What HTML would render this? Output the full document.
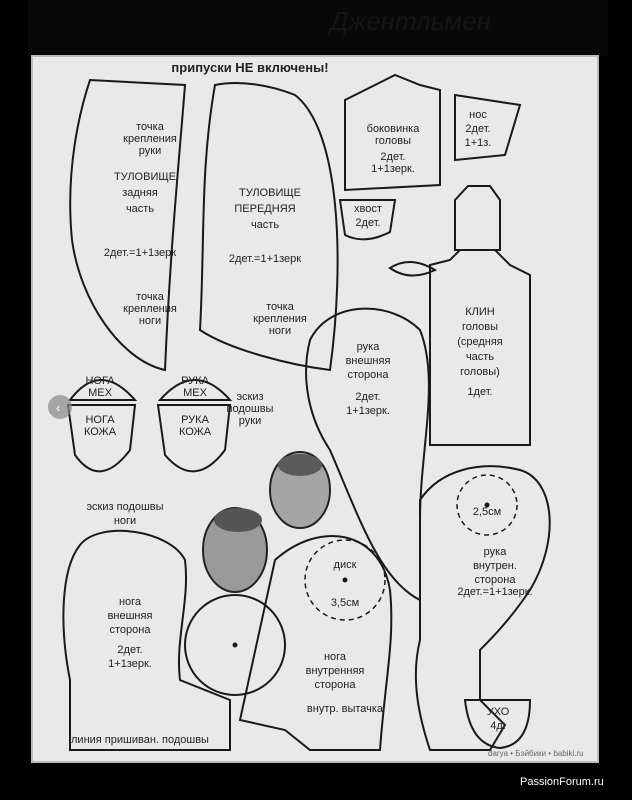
<!DOCTYPE html>
<html><head><meta charset="utf-8"><style>
html,body{margin:0;padding:0;background:#000;width:632px;height:800px;overflow:hidden}
svg{display:block}
text{font-family:"Liberation Sans","DejaVu Sans",sans-serif;fill:#222}
</style></head><body>
<svg width="632" height="800" viewBox="0 0 632 800" xmlns="http://www.w3.org/2000/svg">
<rect width="632" height="800" fill="#000"/>
<rect x="28" y="0" width="580" height="56" fill="#080808"/>
<text x="330" y="30" font-size="26" style="fill:#151515" font-style="italic">Джентльмен</text>
<rect x="32" y="56" width="566" height="706" fill="#e9e9e9"/>
<rect x="32" y="56" width="566" height="706" fill="none" stroke="#bbb" stroke-width="2"/>
<g fill="none" stroke="#1a1a1a" stroke-width="2">
<path d="M90,80 L185,85 C180,150 170,250 165,370 C120,360 80,300 72,240 C65,170 80,110 90,80 Z"/>
<path d="M215,85 C240,80 270,85 295,95 C340,130 345,260 330,370 C290,365 230,350 200,330 C205,240 200,170 215,85Z"/>
<path d="M345,100 L395,75 L420,85 L440,90 L440,185 L345,190 Z"/>
<path d="M455,95 L520,105 L505,155 L455,160 Z"/>
<path d="M340,200 L395,200 L390,232 Q365,245 345,235 Z"/>
<path d="M455,200 L468,186 L490,186 L500,200 L500,250 L455,250 Z"/>
<path d="M430,265 L450,260 L460,250 L495,250 L510,265 L530,275 L530,445 L430,445 Z"/>
<path d="M390,268 Q410,255 435,270 Q410,282 390,268Z"/>
<path d="M310,340 C330,300 390,300 420,330 C440,380 420,450 420,520 L420,600 C380,580 360,520 330,450 C310,420 300,380 310,340Z"/>
<path d="M420,500 C440,470 480,460 520,470 C555,480 560,540 530,590 C510,620 490,640 480,650 L480,700 L505,725 L490,750 L430,750 C420,720 410,680 420,640 Z"/>
<path d="M465,700 L530,700 Q530,745 500,748 Q470,745 465,700Z"/>
<path d="M70,400 Q100,360 135,400 Z M68,405 L135,405 L130,450 Q100,490 75,455 Z"/>
<path d="M160,400 Q195,360 230,400 Z M158,405 L230,405 L225,450 Q195,490 165,455 Z"/>
<path d="M80,545 C100,520 170,530 185,560 C190,600 175,640 180,680 L230,700 L230,750 L70,750 L70,680 C60,630 60,570 80,545Z"/>
<circle cx="235" cy="645" r="50"/>
<path d="M275,560 C320,520 380,530 390,590 C395,640 385,680 380,750 L310,750 L285,730 L240,720 Z"/>
</g>
<g fill="none" stroke="#1a1a1a" stroke-width="1.5" stroke-dasharray="5,4">
<circle cx="345" cy="580" r="40"/>
<circle cx="487" cy="505" r="30"/>
</g>
<g fill="#1a1a1a"><circle cx="345" cy="580" r="2.5"/><circle cx="487" cy="505" r="2.5"/><circle cx="235" cy="645" r="2.5"/></g>
<ellipse cx="235" cy="550" rx="32" ry="42" fill="#9a9a9a" stroke="#222" stroke-width="2"/>
<ellipse cx="238" cy="520" rx="24" ry="12" fill="#555"/>
<ellipse cx="300" cy="490" rx="30" ry="38" fill="#a5a5a5" stroke="#222" stroke-width="2"/>
<ellipse cx="300" cy="465" rx="22" ry="11" fill="#5a5a5a"/>
<g font-size="11" text-anchor="middle">
<text x="250" y="72" font-size="13" font-weight="bold">припуски НЕ включены!</text>
<text x="145" y="180">ТУЛОВИЩЕ</text><text x="140" y="196">задняя</text><text x="140" y="212">часть</text><text x="140" y="256">2дет.=1+1зерк</text>
<text x="150" y="130">точка</text><text x="150" y="142">крепления</text><text x="150" y="154">руки</text>
<text x="150" y="300">точка</text><text x="150" y="312">крепления</text><text x="150" y="324">ноги</text>
<text x="270" y="196">ТУЛОВИЩЕ</text><text x="265" y="212">ПЕРЕДНЯЯ</text><text x="265" y="228">часть</text><text x="265" y="262">2дет.=1+1зерк</text>
<text x="280" y="310">точка</text><text x="280" y="322">крепления</text><text x="280" y="334">ноги</text>
<text x="393" y="132">боковинка</text><text x="393" y="144">головы</text><text x="393" y="160">2дет.</text><text x="393" y="172">1+1зерк.</text>
<text x="478" y="118">нос</text><text x="478" y="132">2дет.</text><text x="478" y="146">1+1з.</text>
<text x="368" y="212">хвост</text><text x="368" y="226">2дет.</text>
<text x="480" y="315">КЛИН</text><text x="480" y="330">головы</text><text x="480" y="345">(средняя</text><text x="480" y="360">часть</text><text x="480" y="375">головы)</text><text x="480" y="395">1дет.</text>
<text x="368" y="350">рука</text><text x="368" y="364">внешняя</text><text x="368" y="378">сторона</text><text x="368" y="400">2дет.</text><text x="368" y="414">1+1зерк.</text>
<text x="100" y="384">НОГА</text><text x="100" y="396">МЕХ</text><text x="100" y="423">НОГА</text><text x="100" y="435">КОЖА</text>
<text x="195" y="384">РУКА</text><text x="195" y="396">МЕХ</text><text x="195" y="423">РУКА</text><text x="195" y="435">КОЖА</text>
<text x="250" y="400">эскиз</text><text x="250" y="412">подошвы</text><text x="250" y="424">руки</text>
<text x="125" y="510">эскиз подошвы</text><text x="125" y="524">ноги</text>
<text x="130" y="605">нога</text><text x="130" y="619">внешняя</text><text x="130" y="633">сторона</text><text x="130" y="653">2дет.</text><text x="130" y="667">1+1зерк.</text>
<text x="140" y="743">линия пришиван. подошвы</text>
<text x="345" y="568">диск</text><text x="345" y="606">3,5см</text>
<text x="335" y="660">нога</text><text x="335" y="674">внутренняя</text><text x="335" y="688">сторона</text><text x="345" y="712">внутр. вытачка</text>
<text x="487" y="515">2,5см</text>
<text x="495" y="555">рука</text><text x="495" y="569">внутрен.</text><text x="495" y="583">сторона</text><text x="495" y="595">2дет.=1+1зерк.</text>
<text x="498" y="715">УХО</text><text x="498" y="729">4д.</text>
</g>
<circle cx="60" cy="407" r="12" fill="#888" opacity="0.7"/>
<text x="56" y="412" font-size="13" style="fill:#fff">‹</text>
<text x="488" y="756" font-size="8" style="fill:#666">darya • Бэйбики • babiki.ru</text>
<text x="520" y="785" font-size="11" style="fill:#fff">PassionForum.ru</text>
</svg>
</body></html>
